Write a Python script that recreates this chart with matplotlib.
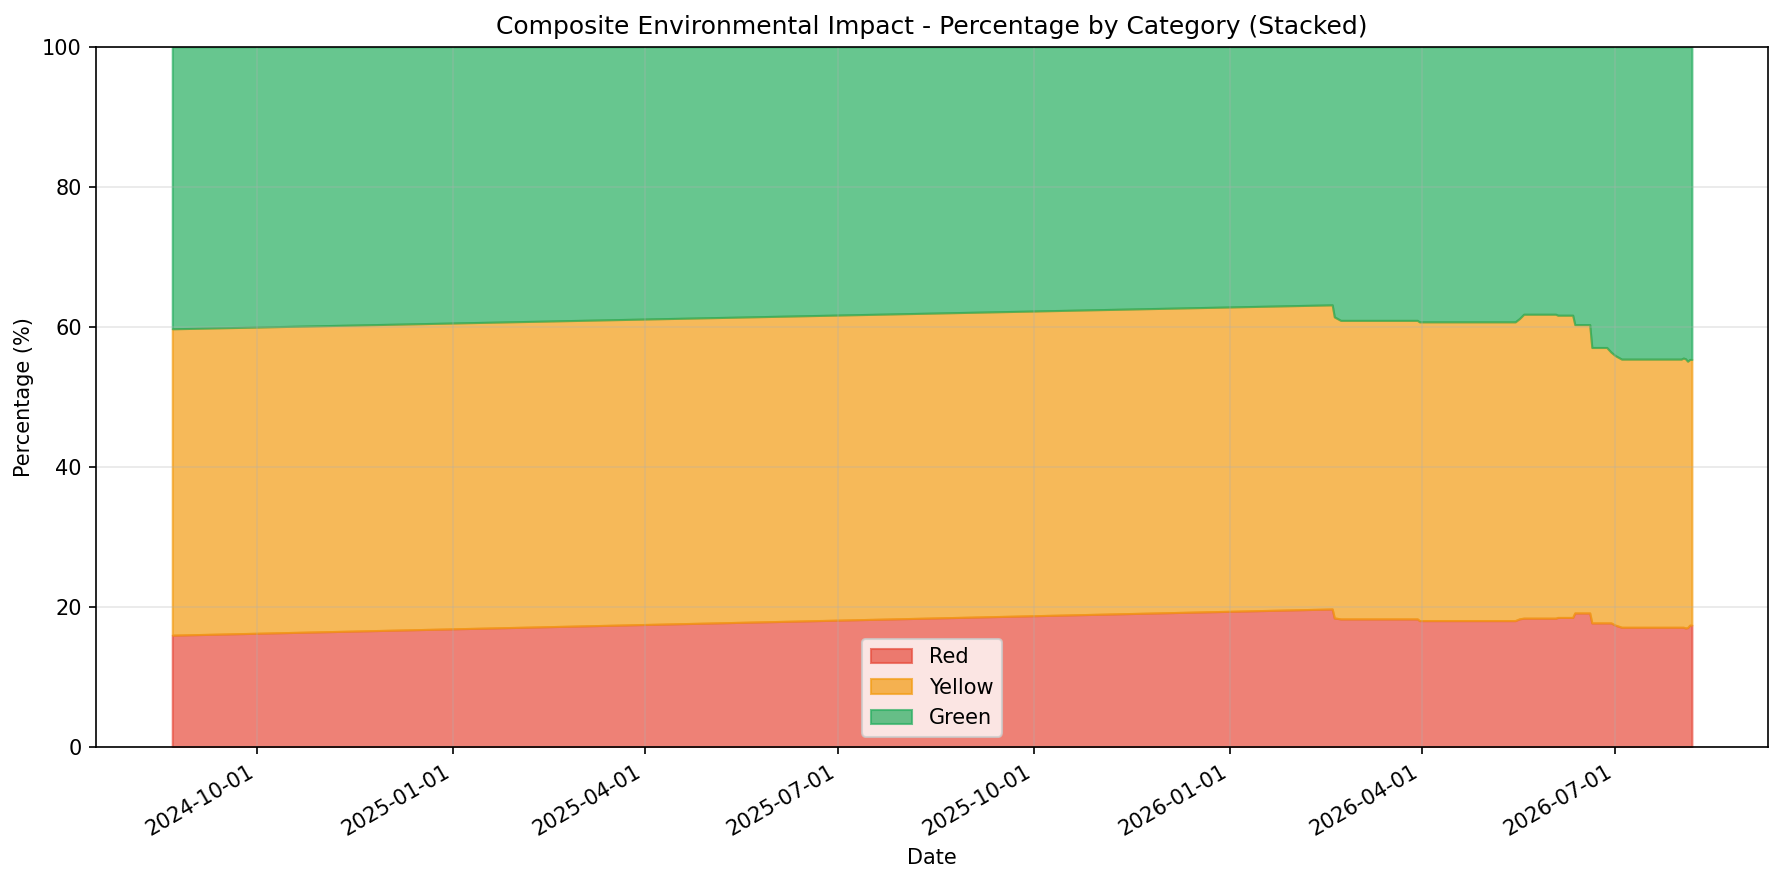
import pandas as pd
import matplotlib
matplotlib.use("Agg")
import matplotlib.pyplot as plt
import matplotlib.dates as mdates

# Dados (percentual acumulado por categoria)
dates = [
    "2024-08-22", "2026-02-18", "2026-02-19", "2026-02-22", "2026-03-30",
    "2026-03-31", "2026-05-15", "2026-05-17", "2026-05-19", "2026-06-03",
    "2026-06-04", "2026-06-11", "2026-06-12", "2026-06-19", "2026-06-20",
    "2026-06-27", "2026-06-29", "2026-07-01", "2026-07-04", "2026-08-01",
    "2026-08-02", "2026-08-03", "2026-08-04", "2026-08-05", "2026-08-06",
]
red_pct = [
    15.97, 19.71, 18.43, 18.29, 18.29,
    18.05, 18.05, 18.30, 18.40, 18.40,
    18.50, 18.50, 19.14, 19.14, 17.72,
    17.72, 17.72, 17.40, 17.10, 17.10,
    17.10, 17.00, 17.05, 17.40, 17.40,
]
# topo da faixa amarela (vermelho + amarelo)
red_yellow_top = [
    59.73, 63.15, 61.43, 60.93, 60.93,
    60.72, 60.72, 61.20, 61.81, 61.81,
    61.67, 61.67, 60.33, 60.33, 57.06,
    57.06, 56.40, 55.90, 55.40, 55.40,
    55.55, 55.45, 55.10, 55.35, 55.35,
]
colors = ["#e74c3c", "#f39c12", "#27ae60"]

def gerar_grafico():
    df = pd.DataFrame({"Date": pd.to_datetime(dates), "Red": red_pct, "Top": red_yellow_top})
    df["Yellow"] = df["Top"] - df["Red"]
    df["Green"] = 100 - df["Top"]

    fig, ax = plt.subplots(figsize=(1783 / 150, 884 / 150), dpi=150)

    polys = ax.stackplot(df["Date"], df["Red"], df["Yellow"], df["Green"],
                         labels=["Red", "Yellow", "Green"],
                         colors=colors, alpha=0.7)
    for p, c in zip(polys, colors):
        p.set_edgecolor(c)
        p.set_linewidth(1.0)

    ax.set_ylim(0, 100)
    ax.set_xlabel("Date")
    ax.set_ylabel("Percentage (%)")
    ax.set_title("Composite Environmental Impact - Percentage by Category (Stacked)", fontsize=12)
    ax.legend(loc="lower center")
    ax.grid(True, alpha=0.3)

    ax.xaxis.set_major_locator(mdates.MonthLocator(bymonth=[1, 4, 7, 10]))
    ax.xaxis.set_major_formatter(mdates.DateFormatter("%Y-%m-%d"))
    fig.autofmt_xdate()

    fig.subplots_adjust(left=0.054, right=0.9915, top=0.947, bottom=0.155)
    fig.savefig("out.png", dpi=150)

if __name__ == "__main__":
    gerar_grafico()
